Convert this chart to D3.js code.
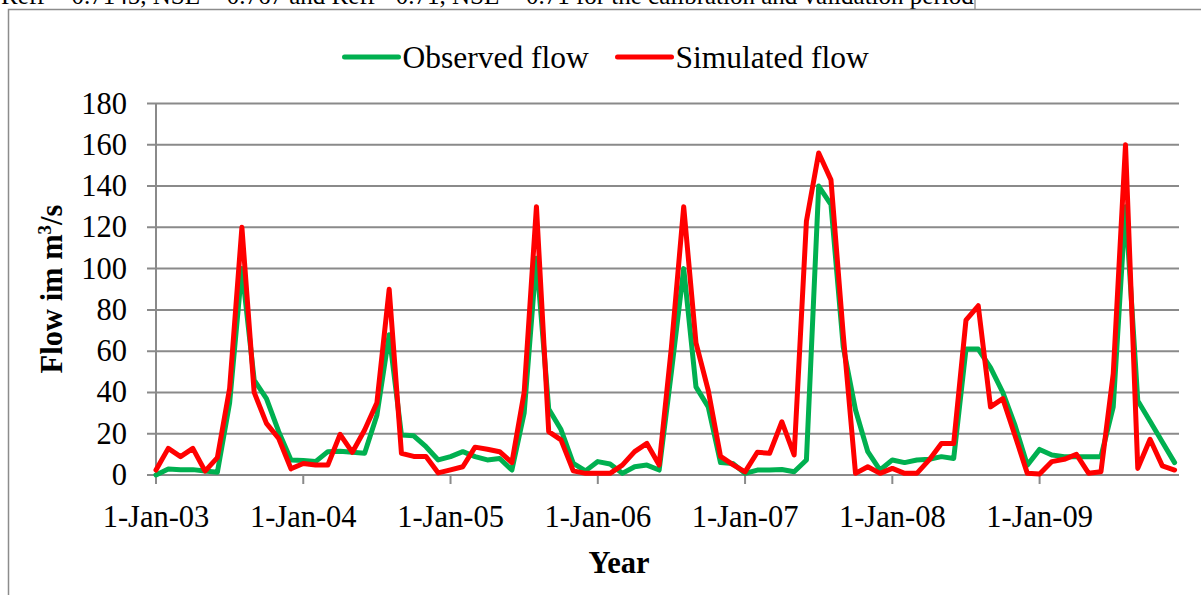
<!DOCTYPE html>
<html>
<head>
<meta charset="utf-8">
<script src="https://cdn.jsdelivr.net/npm/d3@7"></script>
<style>
  html, body { margin: 0; padding: 0; background: #fff; }
  svg { display: block; }
  text { font-family: "Liberation Serif", "Times New Roman", serif; fill: #000; }
</style>
</head>
<body>
<svg id="chart" width="1201" height="595"></svg>
<script>
// ---------------- data ----------------
const startMonth = "2003-01-01";
const endMonth = "2009-12-01";
const seriesNames = ["Observed flow", "Simulated flow"];
const seriesColors = ["#00B050", "#FF0000"];

const observed = [
  0, 2.9, 2.6, 2.6, 1.9, 1.3, 35, 100, 46, 37, 21, 7.3,
  7, 6.5, 11.3, 11.5, 11, 10.5, 29, 68, 19.4, 19, 13.7, 7.3,
  8.9, 11.3, 8.9, 7.3, 8, 2.4, 30, 105, 32, 22, 5.6, 2,
  6.5, 5.3, 0.8, 4, 4.8, 2.4, 50, 100, 42.7, 33, 6, 5.6,
  0.8, 2.4, 2.4, 2.7, 1.6, 7.3, 140, 131, 62, 31.5, 11.3, 2.4,
  7.3, 6, 7.3, 7.6, 8.9, 8, 61, 61, 52, 40, 24, 4.8,
  12.4, 9.7, 8.9, 8.9, 8.9, 8.9, 33, 130, 36, 26, 16, 6
];
const simulated = [
  2.4, 12.9, 8.9, 12.9, 1.9, 8.4, 42, 120, 40, 25, 17.7, 3,
  5.6, 4.8, 4.8, 19.7, 11, 21.8, 35, 90, 10.5, 9, 9, 1,
  2.5, 4, 13.5, 12.5, 11.3, 6, 40, 130, 21, 17, 2, 0.8,
  0.8, 0.8, 4.8, 11.3, 15.3, 4.8, 62, 130, 64, 41, 9, 5,
  1.5, 11, 10.5, 25.8, 9.7, 123, 156, 143, 68, 0.8, 4, 0.8,
  3.2, 0.8, 0.8, 7.3, 15.3, 15.3, 75, 82, 33, 37, 19, 0.8,
  0.5, 6.5, 7.6, 10, 0.8, 1.6, 49, 160, 3.2, 17.3, 4.4, 2.4
];
const xTickDates = ["2003-01-01","2004-01-01","2005-01-01","2006-01-01","2007-01-01","2008-01-01","2009-01-01"];
const xTickLabels = ["1-Jan-03","1-Jan-04","1-Jan-05","1-Jan-06","1-Jan-07","1-Jan-08","1-Jan-09"];
const yTicks = [0, 20, 40, 60, 80, 100, 120, 140, 160, 180];
const xTitle = "Year";
const captionText = "Reff = 0.7145, NSE = 0.767 and Reff= 0.71, NSE = 0.71 for the calibration and validation period";

// ---------------- layout ----------------
const parse = d3.utcParse("%Y-%m-%d");
const start = parse(startMonth);
const months = d3.utcMonth.range(start, d3.utcMonth.offset(parse(endMonth), 1));
// Excel-style monthly date axis: every month takes the same width
const monthIndex = d => d3.utcMonth.count(start, d);

const svg = d3.select("#chart");
const plotLeft = 156, plotRight = 1179, plotTop = 103.5, plotBottom = 475;

const xm = d3.scaleLinear().domain([0, 72]).range([156, 1039.6]);
const x = d => xm(monthIndex(d));
const y = d3.scaleLinear().domain([0, 180]).range([plotBottom, plotTop]);

const gridColor = "#8a8a8a";

// caption (cut off at top) and frame
svg.append("text")
  .attr("x", 1).attr("y", 3.5)
  .attr("font-size", 25)
  .text(captionText);
svg.append("line").attr("x1", 975).attr("x2", 975).attr("y1", 0).attr("y2", 9.5)
  .attr("stroke", "#8c8c8c").attr("stroke-width", 1.3);
svg.append("path")
  .attr("d", `M8.5,595 L8.5,9.5 L1201,9.5`)
  .attr("fill", "none").attr("stroke", "#8c8c8c").attr("stroke-width", 1.5);

// gridlines (with outward ticks)
svg.append("g").selectAll("line").data(yTicks).join("line")
  .attr("x1", plotLeft - 9).attr("x2", plotRight)
  .attr("y1", d => y(d)).attr("y2", d => y(d))
  .attr("stroke", gridColor).attr("stroke-width", 2);

// vertical axis line
svg.append("line")
  .attr("x1", plotLeft).attr("x2", plotLeft)
  .attr("y1", plotTop).attr("y2", plotBottom)
  .attr("stroke", gridColor).attr("stroke-width", 2);

// y tick labels
svg.append("g").selectAll("text").data(yTicks).join("text")
  .attr("x", 127).attr("y", d => y(d))
  .attr("text-anchor", "end")
  .attr("dominant-baseline", "central")
  .attr("font-size", 30.5)
  .text(d => d);

// x axis ticks and labels
const xt = xTickDates.map(parse);
svg.append("g").selectAll("line").data(xt).join("line")
  .attr("x1", d => x(d)).attr("x2", d => x(d))
  .attr("y1", plotBottom).attr("y2", plotBottom + 9)
  .attr("stroke", gridColor).attr("stroke-width", 2);
svg.append("g").selectAll("text").data(xt).join("text")
  .attr("x", d => x(d)).attr("y", 527)
  .attr("text-anchor", "middle")
  .attr("font-size", 30.5)
  .text((d, i) => xTickLabels[i]);

// axis titles
svg.append("text")
  .attr("x", 619).attr("y", 573)
  .attr("text-anchor", "middle")
  .attr("font-size", 30.5).attr("font-weight", "bold")
  .text(xTitle);

const yt = svg.append("text")
  .attr("transform", `translate(62,289) rotate(-90)`)
  .attr("text-anchor", "middle")
  .attr("font-size", 30.5).attr("font-weight", "bold");
yt.append("tspan").text("Flow im m");
yt.append("tspan").attr("font-size", 19).attr("dy", -11).text("3");
yt.append("tspan").attr("dy", 11).text("/s");

// series lines
const line = d3.line().x((d, i) => x(months[i])).y(d => y(d));
[observed, simulated].forEach((vals, k) => {
  svg.append("path")
    .datum(vals)
    .attr("d", line)
    .attr("fill", "none")
    .attr("stroke", seriesColors[k])
    .attr("stroke-width", 5)
    .attr("stroke-linejoin", "round")
    .attr("stroke-linecap", "round");
});

// legend
const legendX = [344.5, 617.5];
seriesNames.forEach((name, k) => {
  svg.append("line")
    .attr("x1", legendX[k]).attr("x2", legendX[k] + 54)
    .attr("y1", 57).attr("y2", 57)
    .attr("stroke", seriesColors[k]).attr("stroke-width", 5)
    .attr("stroke-linecap", "round");
  svg.append("text")
    .attr("x", legendX[k] + 58).attr("y", 57)
    .attr("dominant-baseline", "central")
    .attr("font-size", 31.5)
    .text(name);
});
</script>
</body>
</html>
